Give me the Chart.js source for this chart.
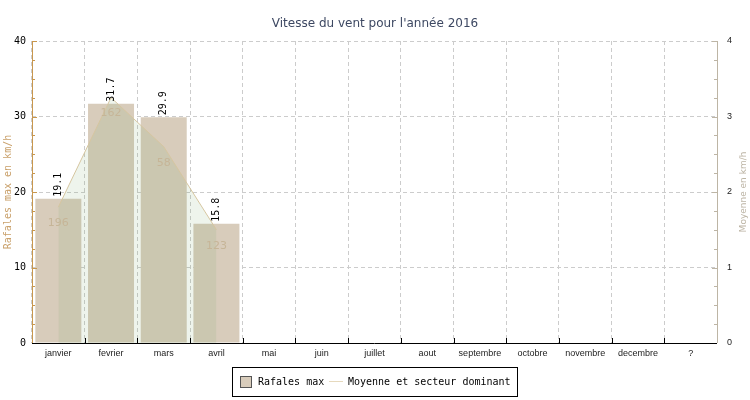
<!DOCTYPE html>
<html><head><meta charset="utf-8">
<script src="https://cdn.jsdelivr.net/npm/chart.js@4/dist/chart.umd.min.js"></script>
<style>html,body{margin:0;padding:0;background:#fff}#wrap{width:750px;height:400px}</style>
</head><body><div id="wrap"><canvas id="c" width="750" height="400"></canvas></div>
<script>
const categories = ['janvier','fevrier','mars','avril','mai','juin','juillet','aout','septembre','octobre','novembre','decembre','?'];
const gustMax = [19.1, 31.7, 29.9, 15.8];
const meanSpeed = [1.8, 3.25, 2.6, 1.5];
const dominantSector = ['196', '162', '58', '123'];
const leftTicks = [0, 10, 20, 30, 40];
const rightTicks = [0, 1, 2, 3, 4];

const MONO = '"DejaVu Sans Mono", monospace';
const SANS = '"DejaVu Sans", sans-serif';
const NARROW = '"Liberation Sans", Arial, sans-serif';

const deco = {
  id: 'deco',
  afterDraw(chart) {
    const ctx = chart.ctx, a = chart.chartArea;
    const yL = chart.scales.y, yR = chart.scales.y1;
    ctx.save();
    // title
    ctx.fillStyle = '#3d4862';
    ctx.font = '12px ' + SANS;
    ctx.textAlign = 'center'; ctx.textBaseline = 'middle';
    ctx.fillText("Vitesse du vent pour l'année 2016", 375, 24);

    // left axis
    ctx.strokeStyle = '#c8974e'; ctx.lineWidth = 1;
    ctx.beginPath(); ctx.moveTo(a.left + 0.5, a.top); ctx.lineTo(a.left + 0.5, a.bottom); ctx.stroke();
    for (let v = 0; v <= 40; v += 2.5) {
      const py = Math.round(yL.getPixelForValue(v)) + 0.5;
      const len = (v % 10 === 0) ? 5 : 3;
      ctx.beginPath(); ctx.moveTo(a.left, py); ctx.lineTo(a.left + len, py); ctx.stroke();
    }
    // right axis
    ctx.strokeStyle = '#bdb5a5';
    ctx.beginPath(); ctx.moveTo(a.right + 0.5, a.top); ctx.lineTo(a.right + 0.5, a.bottom); ctx.stroke();
    for (let v = 0; v <= 4; v += 0.25) {
      const py = Math.round(yR.getPixelForValue(v)) + 0.5;
      const len = (Math.abs(v - Math.round(v)) < 1e-6) ? 5 : 3;
      ctx.beginPath(); ctx.moveTo(a.right, py); ctx.lineTo(a.right - len, py); ctx.stroke();
    }
    // bottom axis
    ctx.strokeStyle = '#000';
    ctx.beginPath(); ctx.moveTo(a.left, a.bottom + 0.5); ctx.lineTo(a.right, a.bottom + 0.5); ctx.stroke();
    const cw = (a.right - a.left) / categories.length;
    for (let i = 1; i < categories.length; i++) {
      const px = Math.round(a.left + i * cw) + 0.5;
      ctx.beginPath(); ctx.moveTo(px, a.bottom); ctx.lineTo(px, a.bottom - 5); ctx.stroke();
    }

    // axis titles
    ctx.save();
    ctx.translate(8, (a.top + a.bottom) / 2);
    ctx.rotate(-Math.PI / 2);
    ctx.fillStyle = '#c9a06a'; ctx.font = '10px ' + MONO;
    ctx.textAlign = 'center'; ctx.textBaseline = 'middle';
    ctx.fillText('Rafales max en km/h', 0, 0);
    ctx.restore();
    ctx.save();
    ctx.translate(744, (a.top + a.bottom) / 2);
    ctx.rotate(-Math.PI / 2);
    ctx.fillStyle = '#bdb5a5'; ctx.font = '9px ' + SANS;
    ctx.textAlign = 'center'; ctx.textBaseline = 'middle';
    ctx.fillText('Moyenne en km/h', 0, 0);
    ctx.restore();

    // bar value labels
    const bm = chart.getDatasetMeta(0);
    ctx.fillStyle = '#000'; ctx.font = '10px ' + MONO;
    bm.data.forEach((el, i) => {
      ctx.save();
      ctx.translate(el.x, el.y - 2);
      ctx.rotate(-Math.PI / 2);
      ctx.textAlign = 'left'; ctx.textBaseline = 'middle';
      ctx.fillText(gustMax[i].toFixed(1), 0, 0);
      ctx.restore();
    });
    // sector labels
    const lm = chart.getDatasetMeta(1);
    ctx.fillStyle = '#c6b597'; ctx.font = '11px ' + SANS;
    ctx.textAlign = 'center'; ctx.textBaseline = 'middle';
    lm.data.forEach((el, i) => {
      ctx.fillText(dominantSector[i], el.x, el.y + 16);
    });

    // legend
    ctx.strokeStyle = '#000'; ctx.lineWidth = 1;
    ctx.strokeRect(232.5, 367.5, 285, 29);
    ctx.fillStyle = '#d8ccbb'; ctx.fillRect(240, 376, 11, 11);
    ctx.strokeStyle = '#555'; ctx.strokeRect(240.5, 376.5, 11, 11);
    ctx.fillStyle = '#000'; ctx.font = '10px ' + MONO;
    ctx.textAlign = 'left'; ctx.textBaseline = 'middle';
    ctx.fillText('Rafales max', 258, 382);
    ctx.strokeStyle = '#e6d9bd'; ctx.lineWidth = 1;
    ctx.beginPath(); ctx.moveTo(329, 381.5); ctx.lineTo(343, 381.5); ctx.stroke();
    ctx.fillText('Moyenne et secteur dominant', 348, 382);
    ctx.restore();
  }
};

new Chart(document.getElementById('c'), {
  data: {
    labels: categories,
    datasets: [
      {
        type: 'bar', label: 'Rafales max', data: gustMax, yAxisID: 'y', order: 2,
        backgroundColor: '#d8ccbb', borderWidth: 0,
        barPercentage: 0.873, categoryPercentage: 1.0
      },
      {
        type: 'line', label: 'Moyenne et secteur dominant', data: meanSpeed, yAxisID: 'y1', order: 1,
        borderColor: '#d6c6a0', borderWidth: 1, backgroundColor: 'rgba(113,163,97,0.12)',
        fill: 'origin', tension: 0, pointRadius: 0
      }
    ]
  },
  options: {
    responsive: false, animation: false,
    layout: { padding: { top: 41, left: 0, right: 0, bottom: 0 } },
    plugins: { legend: { display: false }, title: { display: false }, tooltip: { enabled: false } },
    scales: {
      x: {
        type: 'category', offset: true, z: 1,
        grid: { offset: true, color: '#cccccc', lineWidth: 1, drawTicks: false },
        border: { display: false, dash: [4, 3] },
        ticks: { font: { size: 9, family: NARROW }, color: '#222', padding: 5, maxRotation: 0, autoSkip: false },
        afterFit(s) { s.height = 57; }
      },
      y: {
        position: 'left', min: 0, max: 40, z: 1,
        afterBuildTicks(s) { s.ticks = leftTicks.map(v => ({ value: v })); },
        grid: { color: '#cccccc', lineWidth: 1, drawTicks: false },
        border: { display: false, dash: [4, 3] },
        ticks: { font: { size: 10, family: MONO }, color: '#000', padding: 6 },
        afterFit(s) { s.width = 32; }
      },
      y1: {
        position: 'right', min: 0, max: 4, z: 1,
        afterBuildTicks(s) { s.ticks = rightTicks.map(v => ({ value: v })); },
        grid: { display: false, drawTicks: false },
        border: { display: false },
        ticks: { font: { size: 9, family: NARROW }, color: '#222', padding: 10 },
        afterFit(s) { s.width = 33; }
      }
    }
  },
  plugins: [deco]
});
</script>
</body></html>
